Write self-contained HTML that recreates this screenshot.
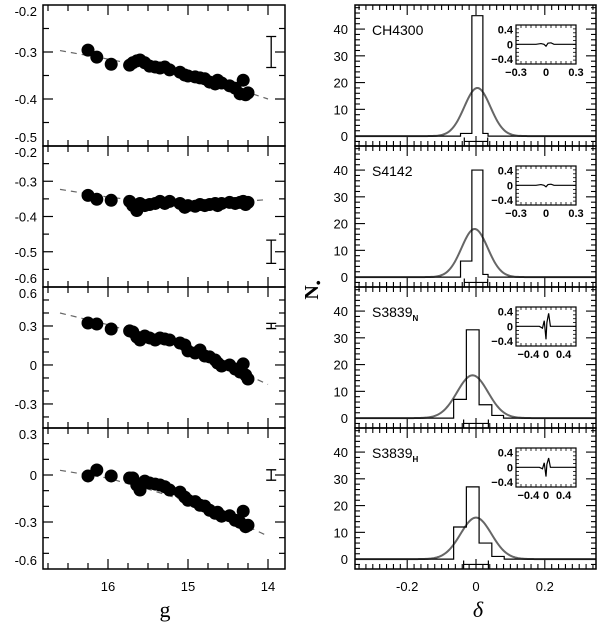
<!DOCTYPE html>
<html><head><meta charset="utf-8"><style>
html,body{margin:0;padding:0;background:#fff;}
svg{display:block;font-family:"Liberation Sans",sans-serif;}
</style></head><body>
<svg id="fig" width="600" height="624" viewBox="0 0 600 624" xmlns="http://www.w3.org/2000/svg"></svg>
<script>
// ---------- data ----------
const starG = [16.25,16.14,15.96,15.73,15.69,15.64,15.60,15.54,15.48,15.41,15.35,15.29,15.23,15.10,15.04,15.00,14.91,14.85,14.79,14.73,14.66,14.63,14.58,14.48,14.41,14.35,14.31,14.28,14.25];
const idxCH = [-0.296,-0.311,-0.326,-0.328,-0.323,-0.319,-0.317,-0.323,-0.330,-0.332,-0.334,-0.332,-0.338,-0.343,-0.349,-0.351,-0.353,-0.355,-0.357,-0.364,-0.368,-0.360,-0.366,-0.372,-0.377,-0.389,-0.360,-0.391,-0.387];
const idxS4142 = [-0.340,-0.351,-0.354,-0.357,-0.369,-0.383,-0.363,-0.369,-0.366,-0.363,-0.357,-0.363,-0.357,-0.363,-0.374,-0.369,-0.371,-0.366,-0.369,-0.366,-0.363,-0.369,-0.363,-0.360,-0.363,-0.360,-0.357,-0.366,-0.360];
const idxS3839N = [0.323,0.315,0.277,0.262,0.254,0.215,0.192,0.223,0.208,0.192,0.208,0.200,0.192,0.169,0.154,0.108,0.092,0.115,0.069,0.062,0.038,0.015,-0.008,0.000,-0.031,-0.054,0.008,-0.077,-0.108];
const idxS3839H = [-0.006,0.032,-0.006,-0.019,-0.019,-0.064,-0.096,-0.039,-0.051,-0.058,-0.064,-0.075,-0.096,-0.109,-0.141,-0.161,-0.170,-0.193,-0.199,-0.225,-0.244,-0.238,-0.263,-0.260,-0.289,-0.302,-0.231,-0.330,-0.321];
const fitG = [16.6,16.0,15.5,15.0,14.5,14.0];
const fitCH = [-0.297,-0.315,-0.332,-0.350,-0.372,-0.400];
const fitS4142 = [-0.323,-0.345,-0.357,-0.362,-0.360,-0.352];
const fitS3839N = [0.40,0.31,0.22,0.11,-0.01,-0.15];
const fitS3839H = [0.03,-0.02,-0.09,-0.17,-0.27,-0.39];
const errCenter = [-0.30,-0.50,0.30,0.00];
const errHalf = [0.033,0.033,0.02,0.033];
const leftRanges = [[-0.5,-0.2],[-0.6,-0.2],[-0.485,0.6],[-0.6,0.3]];
const leftLabels = [[-0.2,-0.3,-0.4,-0.5],[-0.2,-0.3,-0.4,-0.5,-0.6],[0.6,0.3,0,-0.3],[0.3,0,-0.3,-0.6]];
const leftLabelText = [["-0.2","-0.3","-0.4","-0.5"],["-0.2","-0.3","-0.4","-0.5","-0.6"],["0.6","0.3","0","-0.3"],["0.3","0","-0.3","-0.6"]];
const leftMinor = [0.05,0.05,0.1,0.1];
const gTicks = [16,15,14];
const gTickText = ["16","15","14"];

const histNames = ["CH4300","S4142","S3839","S3839"];
const histSubs = ["","","N","H"];
const histEdges = [[-0.045,-0.012,0.02,0.035],[-0.045,-0.012,0.02,0.035],[-0.065,-0.028,0.009,0.046,0.08],[-0.065,-0.028,0.009,0.046,0.082]];
const histCounts = [[1,45,1],[6,40,1],[7,33,5,1],[12,27,6,1]];
const gaussAmp = [18,18,16,15.5];
const gaussMu = [0.004,-0.004,-0.01,0.0];
const gaussSigma = [0.038,0.038,0.045,0.045];
const deltaErrHalf = [0.034,0.034,0.036,0.036];
const countTicks = [0,10,20,30,40];
const deltaTicks = [-0.2,0,0.2];
const deltaTickText = ["-0.2","0","0.2"];
const insetX = [[-0.3,-0.1,-0.05,-0.02,0,0.02,0.05,0.08,0.1,0.3],[-0.3,-0.1,-0.05,-0.02,0,0.02,0.05,0.08,0.1,0.3],[-0.68,-0.15,-0.08,-0.04,0,0.02,0.06,0.1,0.15,0.68],[-0.68,-0.15,-0.08,-0.04,0,0.02,0.06,0.1,0.15,0.68]];
const insetY = [[0,0,0.02,0.0,-0.05,0.03,0.04,0,0,0],[0,0,0.02,0.0,-0.04,0.02,0.03,0,0,0],[0,0,-0.05,0.15,-0.35,0.1,0.35,0,0,0],[0,0,-0.04,0.12,-0.25,0.08,0.25,0,0,0]];
const insetXLim = [0.3,0.3,0.68,0.68];
const insetXTickText = [["-0.3","0","0.3"],["-0.3","0","0.3"],["-0.4","0","0.4"],["-0.4","0","0.4"]];
const insetXTicks = [[-0.3,0,0.3],[-0.3,0,0.3],[-0.4,0,0.4],[-0.4,0,0.4]];

// ---------- layout ----------
const NS="http://www.w3.org/2000/svg";
const svg=document.getElementById('fig');
function el(tag,attrs,parent){const e=document.createElementNS(NS,tag);for(const k in attrs)e.setAttribute(k,attrs[k]);(parent||svg).appendChild(e);return e;}
const panelTop=[5,146,287,428];
const panelH=141;
const LX0=43, LX1=285, RX0=355, RX1=596;
const gx = g => 108 + (16 - g) * 80;
const dx = d => 476 + d * 344;
const seriesL=[idxCH,idxS4142,idxS3839N,idxS3839H];
const fitsL=[fitCH,fitS4142,fitS3839N,fitS3839H];

for(let p=0;p<4;p++){
  const top=panelTop[p], bot=top+panelH;
  const [lo,hi]=leftRanges[p];
  const ly = v => bot - (v-lo)/(hi-lo)*panelH;
  const gp=el('g',{});
  
  
  for(let g=16.75; g>=13.8; g-=0.25){
    const x=gx(g); if(x<LX0+1||x>LX1-1) continue;
    const major=Math.abs(g-Math.round(g))<0.01;
    const L=major?10:6;
    el('line',{x1:x,y1:top,x2:x,y2:top+L,stroke:'#000','stroke-width':1.2},gp);
    el('line',{x1:x,y1:bot,x2:x,y2:bot-L,stroke:'#000','stroke-width':1.2},gp);
  }
  const m=leftMinor[p];
  for(let v=Math.ceil(lo/m-1e-6)*m; v<=hi+1e-9; v+=m){
    const y=ly(v); if(y<top+1||y>bot-1) continue;
    const major=leftLabels[p].some(t=>Math.abs(t-v)<1e-6);
    const L=major?10:6;
    el('line',{x1:LX0,y1:y,x2:LX0+L,y2:y,stroke:'#000','stroke-width':1.2},gp);
    el('line',{x1:LX1,y1:y,x2:LX1-L,y2:y,stroke:'#000','stroke-width':1.2},gp);
  }
  leftLabels[p].forEach((v,i)=>{
    let y=ly(v); y=Math.max(top+6,Math.min(bot-9,y));
    const t=el('text',{x:37,y:y+5,'text-anchor':'end','font-size':13},gp);
    t.textContent=leftLabelText[p][i];
    
    
  });
  const fit=fitsL[p];
  const fp=el('polyline',{points:fitG.map((g,i)=>gx(g)+','+ly(fit[i])).join(' '),fill:'none',stroke:'#666','stroke-width':1.2,'stroke-dasharray':'6,5'},gp);
  
  
  seriesL[p].forEach((v,i)=>{
    const c=el('circle',{cx:gx(starG[i]),cy:ly(v),r:6.5,fill:'#000'},gp);
    
    
  });
  const ex=gx(13.96), ey0=ly(errCenter[p]-errHalf[p]), ey1=ly(errCenter[p]+errHalf[p]);
  const eb=el('path',{d:`M${ex},${ey0}V${ey1}M${ex-5},${ey0}H${ex+5}M${ex-5},${ey1}H${ex+5}`,stroke:'#000','stroke-width':1.3,fill:'none'},gp);
  
  
  el('rect',{x:LX0,y:top,width:LX1-LX0,height:panelH,fill:'none',stroke:'#000','stroke-width':1.5},gp);

  // ---------- right panel ----------
  const gr=el('g',{});
  
  
  const cLo=-3.7, cHi=49;
  const cy = c => bot - (c-cLo)/(cHi-cLo)*panelH;
  for(let i=-17;i<=17;i++){
    const d=i*0.02, x=dx(d); if(x<RX0+1||x>RX1-1) continue;
    const major=(i%10===0);
    const L=major?10:5;
    el('line',{x1:x,y1:top,x2:x,y2:top+L,stroke:'#000','stroke-width':1.1},gr);
    el('line',{x1:x,y1:bot,x2:x,y2:bot-L,stroke:'#000','stroke-width':1.1},gr);
  }
  for(let c=-2;c<=48;c+=2){
    const y=cy(c); if(y<top+1||y>bot-1) continue;
    const L=(c%10===0)?10:5;
    el('line',{x1:RX0,y1:y,x2:RX0+L,y2:y,stroke:'#000','stroke-width':1.1},gr);
    el('line',{x1:RX1,y1:y,x2:RX1-L,y2:y,stroke:'#000','stroke-width':1.1},gr);
  }
  countTicks.forEach(c=>{
    const t=el('text',{x:348,y:cy(c)+5,'text-anchor':'end','font-size':13},gr);
    t.textContent=String(c);
    
    
  });
  let gpts=[];
  for(let d=-0.35; d<=0.3501; d+=0.004){
    const z=(d-gaussMu[p])/gaussSigma[p];
    gpts.push(dx(d)+','+cy(gaussAmp[p]*Math.exp(-0.5*z*z)));
  }
  const gl=el('polyline',{points:gpts.join(' '),fill:'none',stroke:'#666','stroke-width':2},gr);
  
  
  const E=histEdges[p], C=histCounts[p];
  let d=`M${RX0},${cy(0)}H${dx(E[0])}`;
  C.forEach((c,i)=>{d+=`V${cy(c)}H${dx(E[i+1])}`;});
  d+=`V${cy(0)}H${RX1}`;
  const h=el('path',{d,fill:'none',stroke:'#000','stroke-width':1.2},gr);
  
  
  const hx0=dx(-deltaErrHalf[p]), hx1=dx(deltaErrHalf[p]), hy=cy(-2);
  const he=el('path',{d:`M${hx0},${hy}H${hx1}M${hx0},${hy-4}V${hy+4}M${hx1},${hy-4}V${hy+4}`,fill:'none',stroke:'#000','stroke-width':1.2},gr);
  
  
  el('rect',{x:RX0,y:top,width:RX1-RX0,height:panelH,fill:'none',stroke:'#000','stroke-width':1.5},gr);
  const nl=el('text',{x:372,y:top+30,'font-size':14},gr);
  nl.textContent=histNames[p];
  if(histSubs[p]){const ts=el('tspan',{'font-size':8,'font-weight':'bold',dy:4},nl);ts.textContent=histSubs[p];}
  
  
  const ix0=516, ix1=576, iy0=top+20, iy1=top+59;
  const xl=insetXLim[p];
  const ixf = v => ix0 + (v+xl)/(2*xl)*(ix1-ix0);
  const iyf = v => iy1 - (v+0.53)/1.05*(iy1-iy0);
  const gi=el('g',{},gr);
  
  
  el('rect',{x:ix0,y:iy0,width:ix1-ix0,height:iy1-iy0,fill:'#fff',stroke:'#000','stroke-width':1.2},gi);
  for(let k=1;k<12;k++){const x=ix0+k*(ix1-ix0)/12;el('line',{x1:x,y1:iy0,x2:x,y2:iy0+3,stroke:'#000','stroke-width':0.8},gi);el('line',{x1:x,y1:iy1,x2:x,y2:iy1-3,stroke:'#000','stroke-width':0.8},gi);}
  for(let k=1;k<10;k++){const y=iy0+k*(iy1-iy0)/10;el('line',{x1:ix0,y1:y,x2:ix0+3,y2:y,stroke:'#000','stroke-width':0.8},gi);el('line',{x1:ix1,y1:y,x2:ix1-3,y2:y,stroke:'#000','stroke-width':0.8},gi);}
  el('polyline',{points:insetX[p].map((x,i)=>ixf(x)+','+iyf(insetY[p][i])).join(' '),fill:'none',stroke:'#000','stroke-width':1.2},gi);
  [[0.4,"0.4"],[0,"0"],[-0.4,"−0.4"]].forEach(([v,s])=>{const t=el('text',{x:ix0-3,y:iyf(v)+4,'text-anchor':'end','font-size':11,'font-weight':'bold'},gi);t.textContent=s;});
  insetXTicks[p].forEach((v,i)=>{const t=el('text',{x:ixf(v),y:iy1+12,'text-anchor':'middle','font-size':11,'font-weight':'bold'},gi);t.textContent=insetXTickText[p][i].replace('-','−');});
}
gTicks.forEach((g,i)=>{const t=el('text',{x:gx(g),y:591,'text-anchor':'middle','font-size':13});t.textContent=gTickText[i];
  
  });
deltaTicks.forEach((d,i)=>{const t=el('text',{x:dx(d),y:591,'text-anchor':'middle','font-size':13});t.textContent=deltaTickText[i];
  
  });
</script>
<svg width="600" height="624" style="position:absolute;left:0;top:0;pointer-events:none">
<text x="165" y="617" text-anchor="middle" font-family="Liberation Serif, serif" font-size="22">g</text>
<text x="478" y="617" text-anchor="middle" font-family="Liberation Serif, serif" font-style="italic" font-size="22">δ</text>
<text transform="translate(318,290) rotate(-90)" text-anchor="middle" font-family="Liberation Serif, serif" font-weight="bold" font-size="20">N<tspan font-size="14" dy="5">•</tspan></text>
</svg>
</body></html>
